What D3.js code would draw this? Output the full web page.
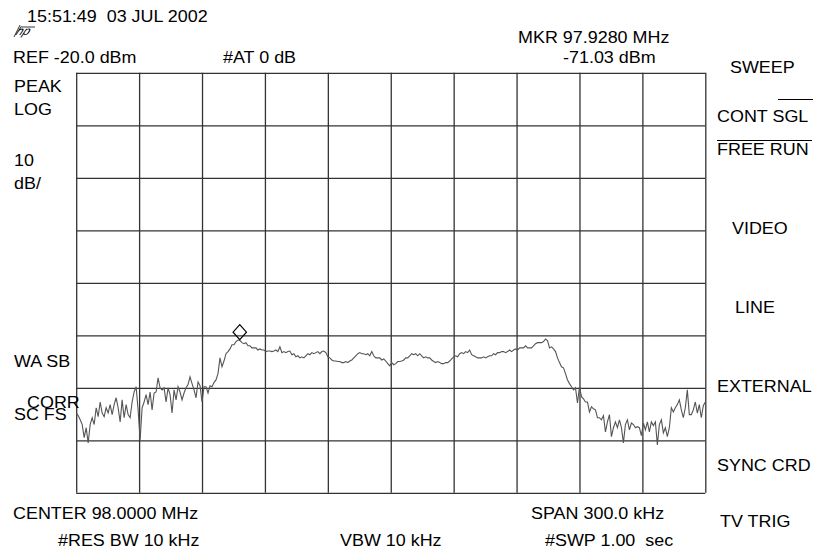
<!DOCTYPE html>
<html>
<head>
  <meta charset="UTF-8">
  <title>Spectrum analyzer screen</title>
  <script src="https://cdn.jsdelivr.net/npm/d3@7"></script>
  <style>
    body { margin: 0; background: #fff; }
    svg text {
      font-family: "Liberation Sans", Arial, sans-serif;
      font-size: 16.3px;
      fill: #000;
      white-space: pre;
    }
  </style>
</head>
<body>

<div class="chart"></div>

<script>

  // instrument settings
  var refLevel = -20;        // dBm, top of screen
  var dbPerDiv = 10;
  var vDivs = 8;
  var centerMHz = 98.0;
  var spanMHz = 0.3;
  var hDivs = 10;
  var markerMHz = 97.928;
  var markerDbm = -71.03;

  // swept trace, 316 points evenly spread over the span (dBm)
  var traceDbm = [
    -84.8, -85.3, -86.1, -87.0, -89.5, -87.6, -90.5, -87.0, -85.7, -87.0,
    -83.8, -85.5, -82.7, -84.8, -85.5, -83.8, -84.8, -83.2, -85.1, -83.2,
    -81.9, -83.8, -86.5, -82.3, -85.7, -83.2, -85.1, -85.7, -82.7, -80.8,
    -79.8, -84.2, -89.9, -83.8, -82.7, -81.3, -83.2, -80.8, -84.2, -81.0,
    -80.8, -78.1, -80.0, -80.4, -80.0, -82.7, -80.0, -81.3, -84.8, -80.4,
    -82.3, -79.8, -80.8, -82.3, -81.0, -80.0, -79.4, -77.9, -79.2, -80.4,
    -81.9, -78.9, -79.6, -82.7, -79.8, -79.8, -81.0, -79.6, -79.8, -79.0,
    -78.5, -77.3, -74.3, -76.0, -74.9, -73.5, -73.1, -72.6, -71.8, -71.8,
    -71.2, -70.9, -71.0, -71.4, -71.6, -71.4, -72.0, -72.0, -72.4, -72.4,
    -72.4, -72.8, -72.6, -72.8, -72.8, -73.1, -73.0, -73.0, -73.1, -73.0,
    -72.8, -73.1, -72.2, -73.3, -73.1, -73.3, -73.1, -73.0, -73.7, -73.5,
    -74.1, -73.9, -74.3, -74.1, -74.3, -73.9, -73.5, -73.7, -73.3, -73.5,
    -73.3, -73.1, -73.5, -73.1, -73.0, -73.3, -74.1, -74.3, -74.7, -74.9,
    -74.9, -75.0, -75.0, -75.2, -75.2, -75.0, -75.2, -74.9, -74.7, -74.3,
    -73.9, -73.5, -73.3, -73.5, -73.5, -73.7, -73.5, -73.9, -73.1, -73.9,
    -74.3, -74.3, -74.3, -74.7, -74.5, -74.9, -75.4, -75.8, -75.2, -75.6,
    -75.4, -75.0, -75.0, -74.9, -74.7, -74.3, -74.3, -73.9, -73.5, -73.7,
    -73.5, -73.9, -73.5, -73.9, -74.3, -74.1, -74.3, -74.3, -74.7, -75.0,
    -75.2, -75.0, -75.2, -75.4, -75.4, -75.2, -75.2, -74.9, -74.5, -74.1,
    -73.9, -74.1, -73.5, -73.3, -73.5, -73.1, -73.3, -72.8, -73.7, -73.9,
    -74.1, -74.3, -74.3, -74.3, -74.1, -74.3, -74.1, -73.9, -73.9, -73.5,
    -73.7, -73.3, -73.3, -73.1, -73.1, -73.3, -73.1, -72.8, -73.1, -72.8,
    -72.6, -72.8, -72.4, -72.4, -72.4, -72.0, -72.4, -72.4, -72.4, -72.0,
    -71.6, -71.4, -71.4, -71.4, -71.2, -70.7, -71.0, -72.4, -72.2, -72.6,
    -73.1, -74.3, -75.2, -76.0, -76.2, -77.3, -78.5, -79.2, -79.8, -80.4,
    -80.0, -82.9, -79.8, -81.7, -82.1, -82.7, -82.7, -84.6, -83.6, -84.0,
    -84.2, -85.7, -85.7, -86.1, -85.3, -88.4, -86.5, -85.1, -89.3, -87.6,
    -86.5, -87.6, -86.1, -87.6, -90.5, -87.0, -86.1, -88.0, -86.7, -87.0,
    -87.6, -87.4, -87.6, -89.1, -86.7, -88.0, -86.5, -88.4, -86.5, -87.2,
    -86.5, -90.9, -87.0, -86.1, -88.6, -87.6, -89.3, -87.6, -83.8, -84.6,
    -83.8, -83.2, -82.3, -84.2, -85.7, -83.8, -80.4, -85.1, -85.1, -84.2,
    -82.7, -84.8, -83.2, -85.7, -83.4, -82.7
  ];

  // screen annotations
  var headerLabels = ['15:51:49  03 JUL 2002', 'REF -20.0 dBm', '#AT 0 dB',
                      'MKR 97.9280 MHz', '-71.03 dBm'];
  var sideLabels = ['PEAK', 'LOG', '10', 'dB/', 'WA SB', 'CORR', 'SC FS'];
  var softkeys = ['SWEEP', 'CONT SGL', 'FREE RUN', 'VIDEO', 'LINE',
                  'EXTERNAL', 'SYNC CRD', 'TV TRIG'];
  var footerLabels = ['CENTER 98.0000 MHz', '#RES BW 10 kHz', 'VBW 10 kHz',
                      'SPAN 300.0 kHz', '#SWP 1.00  sec'];

  var W = 815, H = 549;
  var plot = { left: 76.2, right: 705.3, top: 72.8, bottom: 492.8 };

  var svg = d3.select('.chart')
    .append('svg')
      .attr('width', W)
      .attr('height', H);

  var fStart = centerMHz - spanMHz / 2, fStop = centerMHz + spanMHz / 2;
  var bottomDbm = refLevel - dbPerDiv * vDivs;

  var x = d3.scaleLinear().domain([fStart, fStop]).range([plot.left, plot.right]);
  var y = d3.scaleLinear().domain([bottomDbm, refLevel]).range([plot.bottom, plot.top]);

  var xTicks = d3.range(hDivs + 1).map(k => fStart + k * spanMHz / hDivs);
  var yTicks = d3.range(vDivs + 1).map(k => refLevel - k * dbPerDiv);

  // graticule from the axes
  var gx = svg.append('g')
    .attr('transform', `translate(0, ${plot.bottom})`)
    .call(d3.axisBottom(x).tickValues(xTicks).tickSize(-(plot.bottom - plot.top)).tickFormat(''));
  var gy = svg.append('g')
    .attr('transform', `translate(${plot.left}, 0)`)
    .call(d3.axisLeft(y).tickValues(yTicks).tickSize(-(plot.right - plot.left)).tickFormat(''));
  [gx, gy].forEach(g => {
    g.select('.domain').remove();
    g.selectAll('.tick line').attr('stroke', '#333').attr('stroke-width', 1.3);
  });

  // trace
  var n = traceDbm.length;
  var line = d3.line()
    .x((d, i) => x(fStart + i * spanMHz / (n - 1)))
    .y(d => y(d));
  svg.append('path')
    .datum(traceDbm)
    .attr('d', line)
    .attr('fill', 'none')
    .attr('stroke', '#555')
    .attr('stroke-width', 1.1);

  // marker diamond sitting on the trace
  var mx = x(markerMHz), my = y(markerDbm) - 1;
  svg.append('path')
    .attr('d', `M${mx},${my} L${mx + 6.7},${my - 7.5} L${mx},${my - 15} L${mx - 6.7},${my - 7.5} Z`)
    .attr('fill', 'none')
    .attr('stroke', '#000')
    .attr('stroke-width', 1.2);

  // text helper: slightly wide lettering like the instrument font
  function label(px, py, str) {
    return svg.append('text')
      .attr('transform', `translate(${px}, ${py}) scale(1.1, 1)`)
      .text(str);
  }

  label(27, 21.7, headerLabels[0]);
  label(13, 63.3, headerLabels[1]);
  label(223, 63.3, headerLabels[2]);
  label(518, 43.3, headerLabels[3]);
  label(563, 63.3, headerLabels[4]);

  // hp logo
  svg.append('text')
    .attr('transform', 'translate(15, 35) skewX(-25)')
    .style('font-size', '12px')
    .style('font-style', 'italic')
    .text('hp');
  svg.append('line')
    .attr('x1', 14).attr('y1', 37).attr('x2', 20).attr('y2', 25)
    .attr('stroke', '#000').attr('stroke-width', 0.8);
  svg.append('line')
    .attr('x1', 22).attr('y1', 27).attr('x2', 35).attr('y2', 27)
    .attr('stroke', '#000').attr('stroke-width', 0.8);

  var sidePos = [[14, 92], [14, 115], [14, 166], [14, 189], [14, 367], [27, 408], [14, 420]];
  sideLabels.forEach((s, i) => label(sidePos[i][0], sidePos[i][1], s));

  var keyPos = [[730, 73.3], [717, 121.7], [717, 155], [732, 234], [735, 313],
                [717, 392], [717, 471], [720, 527]];
  softkeys.forEach((s, i) => label(keyPos[i][0], keyPos[i][1], s));
  svg.append('line')
    .attr('x1', 778).attr('y1', 99.5).attr('x2', 813).attr('y2', 99.5)
    .attr('stroke', '#000').attr('stroke-width', 1);
  svg.append('line')
    .attr('x1', 717).attr('y1', 140.5).attr('x2', 812).attr('y2', 140.5)
    .attr('stroke', '#000').attr('stroke-width', 1);

  var footPos = [[13, 519], [58, 546], [340, 546], [531, 519], [545, 546]];
  footerLabels.forEach((s, i) => label(footPos[i][0], footPos[i][1], s));

</script>

</body>
</html>
